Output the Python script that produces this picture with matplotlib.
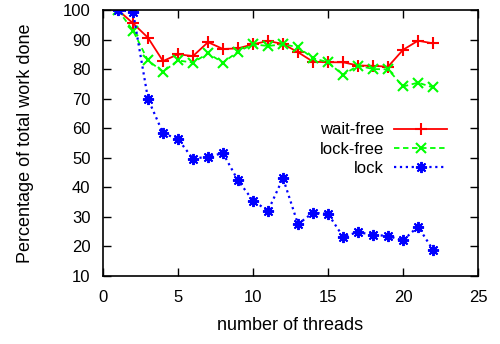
import matplotlib
matplotlib.use("Agg")
import matplotlib.pyplot as plt

threads = list(range(1, 23))
wait_free = [100, 95.5, 90.6, 82.7, 85.0, 84.4, 89.1, 86.8, 87.0, 88.4, 89.5, 88.5,
             85.7, 82.5, 82.3, 82.3, 81.2, 81.1, 80.8, 86.5, 89.6, 88.7]
lock_free = [100, 93.0, 82.9, 79.1, 82.9, 82.2, 85.3, 82.2, 85.9, 88.4, 87.8, 88.4,
             87.4, 83.7, 82.3, 78.0, 81.2, 80.0, 79.9, 74.1, 75.4, 73.8]
lock = [100, 99.4, 69.9, 58.3, 56.3, 49.6, 50.4, 51.5, 42.3, 35.5, 32.0, 43.1,
        27.5, 31.4, 31.0, 23.3, 24.8, 23.9, 23.5, 22.0, 26.7, 18.8]

plt.rcParams['font.family'] = ['Liberation Sans', 'DejaVu Sans']
plt.rcParams['font.size'] = 12

fig = plt.figure(figsize=(5, 3.44), dpi=100)
ax = fig.add_axes([0.206, 0.198, 0.75, 0.773])

ax.plot(threads, wait_free, color='#ff0000', linestyle='-', linewidth=1.3,
        marker='+', markersize=8, markeredgewidth=1.5, label='wait-free')
ax.plot(threads, lock_free, color='#00ff00', linestyle='--', linewidth=1.3,
        dashes=(3, 2), marker='x', markersize=7, markeredgewidth=1.5, label='lock-free')
ax.plot(threads, lock, color='#0000ff', linestyle=':', linewidth=1.6,
        marker=(8, 2, 0), markersize=8, markeredgewidth=1.4, label='lock')

ax.set_xlim(0, 25)
ax.set_ylim(10, 100)
ax.set_xticks([0, 5, 10, 15, 20, 25])
ax.set_yticks(range(10, 101, 10))
ax.tick_params(axis='x', direction='in', top=True, length=6, width=1, pad=10)
ax.tick_params(axis='y', direction='in', right=True, length=6, width=1, pad=9)
for s in ax.spines.values():
    s.set_linewidth(1.2)

ax.set_xlabel('number of threads', fontsize=13, labelpad=9)
ax.set_ylabel('Percentage of total work done', fontsize=13, labelpad=21)

ax.legend(loc='center right', bbox_to_anchor=(0.94, 0.477), frameon=False,
          markerfirst=False, handlelength=3.2, labelspacing=0.25,
          borderpad=0, handletextpad=0.6)

fig.savefig('out.png', dpi=100)
